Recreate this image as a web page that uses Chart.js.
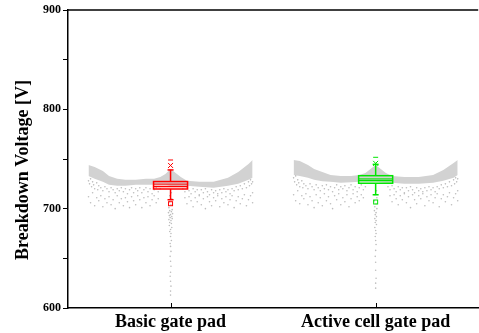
<!DOCTYPE html>
<html>
<head>
<meta charset="utf-8">
<script src="https://cdn.jsdelivr.net/npm/chart.js@4.4.0/dist/chart.umd.min.js"></script>
<style>
  html, body { margin: 0; padding: 0; background: #fff; }
  #wrap { width: 479px; height: 333px; }
</style>
</head>
<body>
<div id="wrap"><canvas id="myChart"></canvas></div>
<script>
const categories = ['Basic gate pad', 'Active cell gate pad'];
const yTickValues = [600, 700, 800, 900];

// dense band of points, read as upper / lower edge at offsets from the category centre
const bandOffsets = [-0.40, -0.37, -0.33, -0.30, -0.26, -0.22, -0.17, -0.12, -0.08, -0.05, -0.025, 0,
                     0.025, 0.05, 0.08, 0.14, 0.21, 0.28, 0.33, 0.38, 0.40];
const basicUpper  = [744, 742, 738, 733, 730, 729, 729, 730, 730, 732, 735, 740, 736, 732, 728, 727, 727, 731, 737, 745, 749];
const basicLower  = [733, 730, 727, 724, 723, 723, 724, 724, 724, 724, 724, 723, 723, 723, 723, 722, 721, 723, 725, 729, 731];
const activeUpper = [749, 748, 744, 740, 737, 734, 733, 733, 734, 736, 740, 744, 740, 736, 733, 732, 732, 734, 739, 746, 749];
const activeLower = [734, 733, 731, 729, 727.5, 727, 726, 726.5, 727, 727, 727, 727, 726.5, 726, 726, 725, 725, 726, 728, 731, 734];

// scattered points below the band: [offset, value]
const basicScatter = [
  [-0.40,728],[-0.395,725],[-0.39,730],[-0.385,722],[-0.38,727],[-0.375,724],[-0.37,720],[-0.36,726],[-0.355,719],[-0.35,723],
  [-0.34,721],[-0.33,718],[-0.32,722],[-0.31,720],[-0.30,717],[-0.29,721],[-0.28,719],[-0.27,716],[-0.26,720],[-0.25,718],
  [-0.24,721],[-0.23,717],[-0.22,720],[-0.21,715],[-0.20,719],[-0.19,721],[-0.18,716],[-0.17,720],[-0.16,718],[-0.15,721],
  [-0.14,716],[-0.13,719],[-0.12,721],[-0.11,717],[-0.10,720],[-0.09,715],[-0.08,719],[-0.07,721],[-0.06,717],[-0.05,720],
  [0.06,720],[0.07,717],[0.08,721],[0.09,718],[0.10,715],[0.11,720],[0.12,717],[0.13,719],[0.14,714],[0.15,719],
  [0.16,716],[0.17,720],[0.18,717],[0.19,714],[0.20,719],[0.21,716],[0.22,718],[0.23,715],[0.24,719],[0.25,716],
  [0.26,720],[0.27,717],[0.28,719],[0.29,715],[0.30,720],[0.31,718],[0.32,722],[0.33,719],[0.34,723],[0.35,720],
  [0.36,725],[0.37,721],[0.38,727],[0.385,723],[0.39,729],[0.395,725],[0.40,727],
  [-0.40,712],[-0.39,706],[-0.38,716],[-0.37,703],[-0.36,711],[-0.35,708],[-0.34,713],[-0.33,702],[-0.32,710],[-0.31,706],
  [-0.30,712],[-0.29,704],[-0.28,709],[-0.27,700],[-0.26,713],[-0.25,706],[-0.24,710],[-0.23,703],[-0.22,711],[-0.21,707],
  [-0.20,701],[-0.19,712],[-0.18,708],[-0.17,704],[-0.16,713],[-0.15,709],[-0.14,701],[-0.13,711],[-0.12,706],[-0.11,712],
  [-0.10,703],[-0.09,709],[-0.08,713],[-0.07,706],[-0.06,710],
  [0.07,711],[0.08,705],[0.09,712],[0.10,708],[0.11,702],[0.12,711],[0.13,707],[0.14,713],[0.15,704],[0.16,710],
  [0.17,700],[0.18,712],[0.19,707],[0.20,703],[0.21,711],[0.22,708],[0.23,713],[0.24,702],[0.25,710],[0.26,706],
  [0.27,712],[0.28,704],[0.29,709],[0.30,713],[0.31,701],[0.32,708],[0.33,712],[0.34,705],[0.35,710],[0.36,714],
  [0.37,703],[0.38,709],[0.39,713],[0.40,706],[0.40,716]
];
const activeScatter = [
  [-0.40,731],[-0.395,727],[-0.39,733],[-0.385,724],[-0.38,729],[-0.375,726],[-0.37,722],[-0.36,728],[-0.355,721],[-0.35,725],
  [-0.34,723],[-0.33,720],[-0.32,725],[-0.31,722],[-0.30,719],[-0.29,724],[-0.28,721],[-0.27,718],[-0.26,723],[-0.25,720],
  [-0.24,724],[-0.23,719],[-0.22,722],[-0.21,717],[-0.20,721],[-0.19,724],[-0.18,719],[-0.17,722],[-0.16,720],[-0.15,723],
  [-0.14,718],[-0.13,721],[-0.12,724],[-0.11,719],[-0.10,722],[-0.09,717],[-0.08,721],[-0.07,724],[-0.06,719],[-0.05,722],
  [0.06,722],[0.07,719],[0.08,723],[0.09,720],[0.10,717],[0.11,722],[0.12,719],[0.13,721],[0.14,716],[0.15,721],
  [0.16,718],[0.17,722],[0.18,719],[0.19,716],[0.20,721],[0.21,718],[0.22,720],[0.23,717],[0.24,721],[0.25,718],
  [0.26,722],[0.27,719],[0.28,721],[0.29,717],[0.30,722],[0.31,720],[0.32,724],[0.33,721],[0.34,725],[0.35,722],
  [0.36,727],[0.37,723],[0.38,729],[0.385,725],[0.39,731],[0.395,727],[0.40,730],
  [-0.40,714],[-0.39,708],[-0.38,718],[-0.37,705],[-0.36,713],[-0.35,710],[-0.34,715],[-0.33,704],[-0.32,712],[-0.31,708],
  [-0.30,701],[-0.29,714],[-0.28,706],[-0.27,711],[-0.26,703],[-0.25,715],[-0.24,708],[-0.23,712],[-0.22,705],[-0.21,700],
  [-0.20,713],[-0.19,709],[-0.18,715],[-0.17,704],[-0.16,711],[-0.15,707],[-0.14,714],[-0.13,702],[-0.12,710],[-0.11,715],
  [-0.10,706],[-0.09,712],[-0.08,708],[-0.07,714],[-0.06,711],
  [0.07,713],[0.08,707],[0.09,714],[0.10,710],[0.11,704],[0.12,713],[0.13,709],[0.14,715],[0.15,706],[0.16,712],
  [0.17,701],[0.18,714],[0.19,709],[0.20,705],[0.21,713],[0.22,710],[0.23,715],[0.24,703],[0.25,712],[0.26,708],
  [0.27,714],[0.28,706],[0.29,711],[0.30,715],[0.31,702],[0.32,710],[0.33,714],[0.34,707],[0.35,712],[0.36,716],
  [0.37,704],[0.38,711],[0.39,715],[0.40,708],[0.40,718]
];

// low tail under each box: [offset, value]
const basicTail = [
  [0.004,716],[-0.004,713],[0.006,710],[-0.006,707],[0.002,704],[-0.008,701],[0.008,699],[-0.004,698],[0.004,697],[-0.01,696],
  [0.01,695],[0,694],[-0.006,693],[0.006,692],[-0.002,691],[0.008,690],[-0.008,689],[0.002,688],[-0.004,686],[0.004,685],
  [-0.006,683],[0.006,681],[0,679],[-0.004,677],[0.002,675],[0,672],[0.004,668],[-0.002,665],[0,662],[0.002,657],
  [-0.002,652],[0,647],[0.002,642],[0,636],[-0.002,632],[0,627],[0.002,622],[0,617],[0,613]
];
const activeTail = [
  [0.004,718],[-0.004,714],[0.006,711],[-0.006,708],[0.002,705],[-0.004,702],[0.006,700],[-0.006,698],[0.002,696],[-0.002,694],
  [0.004,692],[-0.004,690],[0.002,688],[-0.002,686],[0.004,684],[-0.004,681],[0,678],[0.002,675],[-0.002,672],[0,668],
  [0.002,664],[0,658],[-0.002,652],[0,646],[0,638],[0.002,630],[0,625],[0,620]
];

// box statistics
const boxQ1       = [719.8, 725.6];
const boxQ3       = [727.3, 733.2];
const boxMedian   = [722.2, 728.4];
const boxMean     = [724.7, 730.0];
const whiskerLow  = [709, 714];
const whiskerHigh = [739, 744.6];
const pct1        = [705, 706.7];
const pct99       = [743.5, 745.6];
const maxValue    = [749, 751.7];
const boxColors   = ['#ff0000', '#00e600'];
const boxHalfWidth = 0.083;

const bandGray = '#d2d2d2';
const dotGray = '#bdbdbd';

function bandData(edge, centre) {
  return bandOffsets.map((o, i) => ({ x: centre + o, y: edge[i] }));
}
function pairData(list, centre) {
  return list.map(p => ({ x: centre + p[0], y: p[1] }));
}

const boxPlugin = {
  id: 'boxPlot',
  afterDatasetsDraw(chart) {
    const { ctx, chartArea, scales } = chart;
    const x = scales.x, y = scales.y;
    const line = (x1, y1, x2, y2) => { ctx.beginPath(); ctx.moveTo(x1, y1); ctx.lineTo(x2, y2); ctx.stroke(); };
    ctx.save();
    categories.forEach((name, i) => {
      const cx = x.getPixelForValue(i + 1);
      const hw = x.getPixelForValue(i + 1 + boxHalfWidth) - cx;
      const py = v => y.getPixelForValue(v);
      ctx.strokeStyle = boxColors[i];
      ctx.lineWidth = 1.5;
      ctx.strokeRect(cx - hw, py(boxQ3[i]), hw * 2, py(boxQ1[i]) - py(boxQ3[i]));
      line(cx - hw, py(boxMedian[i]), cx + hw, py(boxMedian[i]));
      ctx.lineWidth = 1;
      line(cx - hw, py(boxMean[i]), cx + hw, py(boxMean[i]));
      ctx.lineWidth = 1.5;
      line(cx, py(boxQ3[i]), cx, py(whiskerHigh[i]));
      line(cx, py(boxQ1[i]), cx, py(whiskerLow[i]));
      line(cx - 3, py(whiskerHigh[i]), cx + 3, py(whiskerHigh[i]));
      line(cx - 3, py(whiskerLow[i]), cx + 3, py(whiskerLow[i]));
      ctx.lineWidth = 1;
      line(cx - 2.5, py(maxValue[i]), cx + 2.5, py(maxValue[i]));
      const c = py(pct99[i]);
      line(cx - 2.5, c - 2.5, cx + 2.5, c + 2.5);
      line(cx - 2.5, c + 2.5, cx + 2.5, c - 2.5);
      ctx.strokeRect(cx - 2, py(pct1[i]) - 2, 4, 4);
    });
    // inward ticks on the bottom axis
    ctx.strokeStyle = '#000';
    ctx.lineWidth = 1;
    categories.forEach((name, i) => {
      const cx = Math.round(x.getPixelForValue(i + 1)) + 0.5;
      line(cx, chartArea.bottom, cx, chartArea.bottom - 5);
    });
    // top frame
    ctx.lineWidth = 1.5;
    line(chartArea.left, chartArea.top, chartArea.right, chartArea.top);
    // y axis title
    ctx.fillStyle = '#000';
    ctx.font = 'bold 18px "Times New Roman", "Liberation Serif", serif';
    ctx.textAlign = 'center';
    ctx.textBaseline = 'middle';
    ctx.translate(23, (chartArea.top + chartArea.bottom) / 2 + 11);
    ctx.rotate(-Math.PI / 2);
    ctx.fillText('Breakdown Voltage [V]', 0, 0);
    ctx.restore();
  }
};

const pointStyle = { type: 'scatter', pointRadius: 0.8, pointHoverRadius: 0, borderWidth: 0, backgroundColor: dotGray };
const bandStyle = { type: 'line', pointRadius: 0, borderWidth: 0, borderColor: bandGray, backgroundColor: bandGray, tension: 0 };

const ctx = document.getElementById('myChart');
new Chart(ctx, {
  data: {
    datasets: [
      { ...pointStyle, data: pairData(basicScatter, 1) },
      { ...pointStyle, data: pairData(activeScatter, 2) },
      { ...pointStyle, data: pairData(basicTail, 1) },
      { ...pointStyle, data: pairData(activeTail, 2) },
      { ...bandStyle, data: bandData(basicUpper, 1), fill: '+1' },
      { ...bandStyle, data: bandData(basicLower, 1), fill: false },
      { ...bandStyle, data: bandData(activeUpper, 2), fill: '+1' },
      { ...bandStyle, data: bandData(activeLower, 2), fill: false }
    ]
  },
  options: {
    responsive: true,
    maintainAspectRatio: false,
    animation: false,
    layout: { padding: { top: 10, right: 0, left: 0, bottom: 0 } },
    plugins: { legend: { display: false }, tooltip: { enabled: false } },
    scales: {
      x: {
        type: 'linear',
        min: 0.5,
        max: 2.5,
        afterBuildTicks: scale => { scale.ticks = categories.map((c, i) => ({ value: i + 1 })); },
        afterFit: scale => { scale.height = 25; },
        ticks: {
          callback: v => categories[v - 1],
          color: '#000',
          maxRotation: 0,
          autoSkip: false,
          padding: 4,
          font: { family: '"Times New Roman", "Liberation Serif", serif', size: 18, weight: 'bold' }
        },
        grid: { drawOnChartArea: false, drawTicks: false },
        border: { color: '#000', width: 1.5 }
      },
      y: {
        min: 600,
        max: 900,
        afterFit: scale => { scale.width = 68; },
        ticks: {
          stepSize: 50,
          callback: v => (yTickValues.includes(v) ? v : ''),
          color: '#000',
          padding: 2,
          font: { family: '"Times New Roman", "Liberation Serif", serif', size: 12, weight: 'bold' }
        },
        grid: { drawOnChartArea: false, tickLength: 5, color: '#000' },
        border: { color: '#000', width: 1.5 }
      }
    }
  },
  plugins: [boxPlugin]
});
</script>
</body>
</html>
